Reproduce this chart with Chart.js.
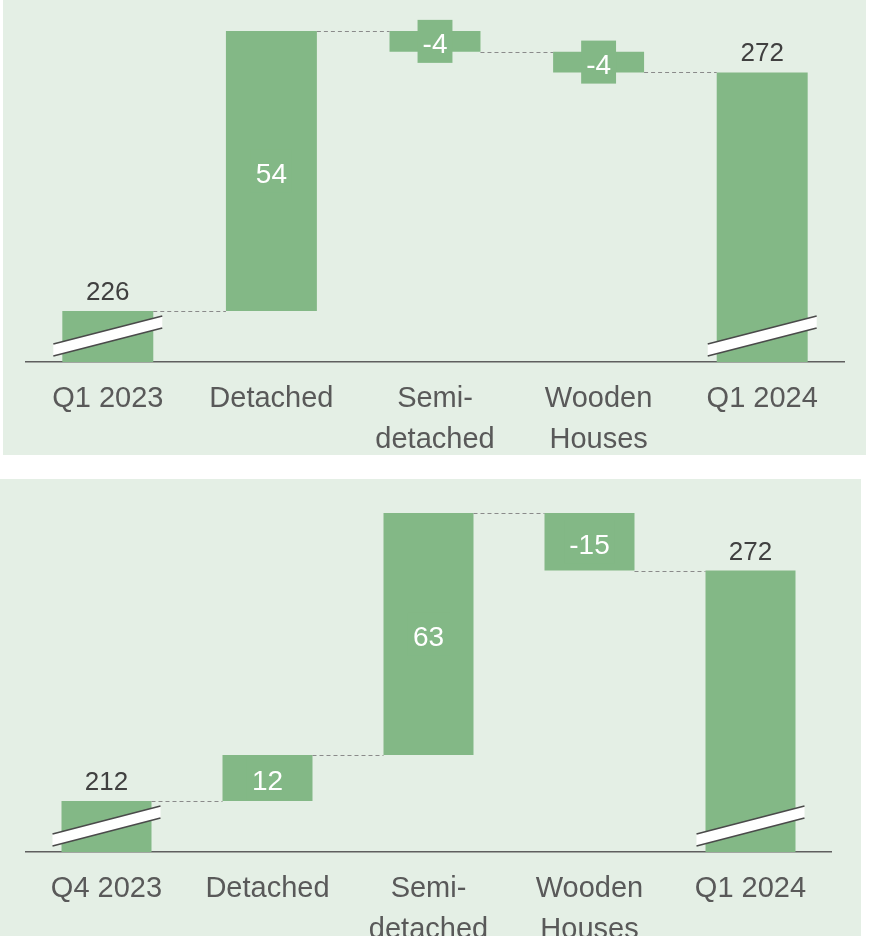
<!DOCTYPE html>
<html>
<head>
<meta charset="utf-8">
<script src="https://cdn.jsdelivr.net/npm/chart.js@4.4.1/dist/chart.umd.min.js"></script>
<style>
    html, body { margin: 0; padding: 0; background: #ffffff; }
    .panel { position: absolute; background: #e4efe5; }
    #topPanel { left: 3px; top: 0; width: 863px; height: 455px; }
    #bottomPanel { left: 0; top: 479px; width: 861px; height: 457px; }
    canvas { display: block; }
</style>
</head>
<body>
<div class="panel" id="topPanel"><canvas id="topChart" width="863" height="455"></canvas></div>
<div class="panel" id="bottomPanel"><canvas id="bottomChart" width="861" height="457"></canvas></div>

<script>
const topLabels = [["Q1 2023"], ["Detached"], ["Semi-", "detached"], ["Wooden", "Houses"], ["Q1 2024"]];
const topValues = [226, 54, -4, -4, 272];

const bottomLabels = [["Q4 2023"], ["Detached"], ["Semi-", "detached"], ["Wooden", "Houses"], ["Q1 2024"]];
const bottomValues = [212, 12, 63, -15, 272];

// first and last bars are totals, the rest are changes
const totalFlags = [true, false, false, false, true];

const fontFamily = "'Liberation Sans', Arial, sans-serif";
const barColor = "#83b886";
const tickColor = "#595959";
const valueColor = "#404040";

// turn values into floating [start, end] ranges
function toRanges(values, axisMin) {
    let running = 0;
    return values.map((v, i) => {
        if (totalFlags[i]) {
            running = v;
            return [axisMin, v];
        }
        const start = running;
        running += v;
        return [start, running];
    });
}

const waterfallDecor = {
    id: "waterfallDecor",
    afterDatasetsDraw(chart, args, opts) {
        const { ctx, chartArea } = chart;
        const y = chart.scales.y;
        const meta = chart.getDatasetMeta(0);
        const ranges = chart.data.datasets[0].data;
        const values = opts.values;
        ctx.save();

        // dashed connectors between bars
        ctx.strokeStyle = "#8a8a8a";
        ctx.lineWidth = 1;
        ctx.setLineDash([4, 3]);
        for (let i = 0; i < meta.data.length - 1; i++) {
            const a = meta.data[i];
            const b = meta.data[i + 1];
            const level = Math.round(y.getPixelForValue(ranges[i][1])) + 0.5;
            ctx.beginPath();
            ctx.moveTo(a.x + a.width / 2, level);
            ctx.lineTo(b.x - b.width / 2, level);
            ctx.stroke();
        }
        ctx.setLineDash([]);

        // axis break marks on the total bars
        const base = chartArea.bottom;
        meta.data.forEach((bar, i) => {
            if (!totalFlags[i]) return;
            const x1 = bar.x - bar.width / 2 - 9;
            const x2 = bar.x + bar.width / 2 + 9;
            ctx.fillStyle = "#ffffff";
            ctx.beginPath();
            ctx.moveTo(x1, base - 6);
            ctx.lineTo(x2, base - 34);
            ctx.lineTo(x2, base - 46);
            ctx.lineTo(x1, base - 18);
            ctx.closePath();
            ctx.fill();
            ctx.strokeStyle = "#4a4a4a";
            ctx.lineWidth = 1.6;
            ctx.beginPath();
            ctx.moveTo(x1, base - 6);
            ctx.lineTo(x2, base - 34);
            ctx.moveTo(x1, base - 18);
            ctx.lineTo(x2, base - 46);
            ctx.stroke();
        });

        // value labels
        ctx.textAlign = "center";
        meta.data.forEach((bar, i) => {
            const text = String(values[i]);
            if (totalFlags[i]) {
                ctx.font = "26px " + fontFamily;
                ctx.fillStyle = valueColor;
                ctx.textBaseline = "alphabetic";
                ctx.fillText(text, bar.x, Math.min(bar.y, bar.base) - 11);
            } else {
                ctx.font = "28px " + fontFamily;
                const mid = (bar.y + bar.base) / 2;
                const w = ctx.measureText(text).width + 10;
                const h = 43;
                ctx.fillStyle = barColor;
                ctx.fillRect(bar.x - w / 2, mid - h / 2, w, h);
                ctx.fillStyle = "#ffffff";
                ctx.textBaseline = "middle";
                ctx.fillText(text, bar.x, mid + 4);
            }
        });
        ctx.restore();
    },
};

function makeChart(canvasId, labels, values, axisMin, axisMax, padding, axisHeight, barPct) {
    return new Chart(document.getElementById(canvasId), {
        type: "bar",
        data: {
            labels: labels,
            datasets: [
                {
                    data: toRanges(values, axisMin),
                    backgroundColor: barColor,
                    borderWidth: 0,
                    borderSkipped: false,
                    categoryPercentage: 1,
                    barPercentage: barPct,
                },
            ],
        },
        options: {
            responsive: false,
            animation: false,
            layout: { padding: padding },
            plugins: {
                legend: { display: false },
                tooltip: { enabled: false },
                waterfallDecor: { values: values },
            },
            scales: {
                x: {
                    grid: { display: false },
                    border: { display: true, color: "#5f5f5f", width: 1.5 },
                    ticks: {
                        color: tickColor,
                        font: { family: fontFamily, size: 29, lineHeight: 41 / 29 },
                        padding: 8,
                        maxRotation: 0,
                        autoSkip: false,
                    },
                    afterFit: (scale) => {
                        scale.height = axisHeight;
                    },
                },
                y: {
                    display: false,
                    min: axisMin,
                    max: axisMax,
                },
            },
        },
        plugins: [waterfallDecor],
    });
}

makeChart("topChart", topLabels, topValues, 216.16, 280,
    { left: 23, right: 22, top: 31, bottom: 0 }, 93, 0.556);

makeChart("bottomChart", bottomLabels, bottomValues, 198.72, 287,
    { left: 26, right: 30, top: 34, bottom: 0 }, 84, 0.559);
</script>
</body>
</html>
